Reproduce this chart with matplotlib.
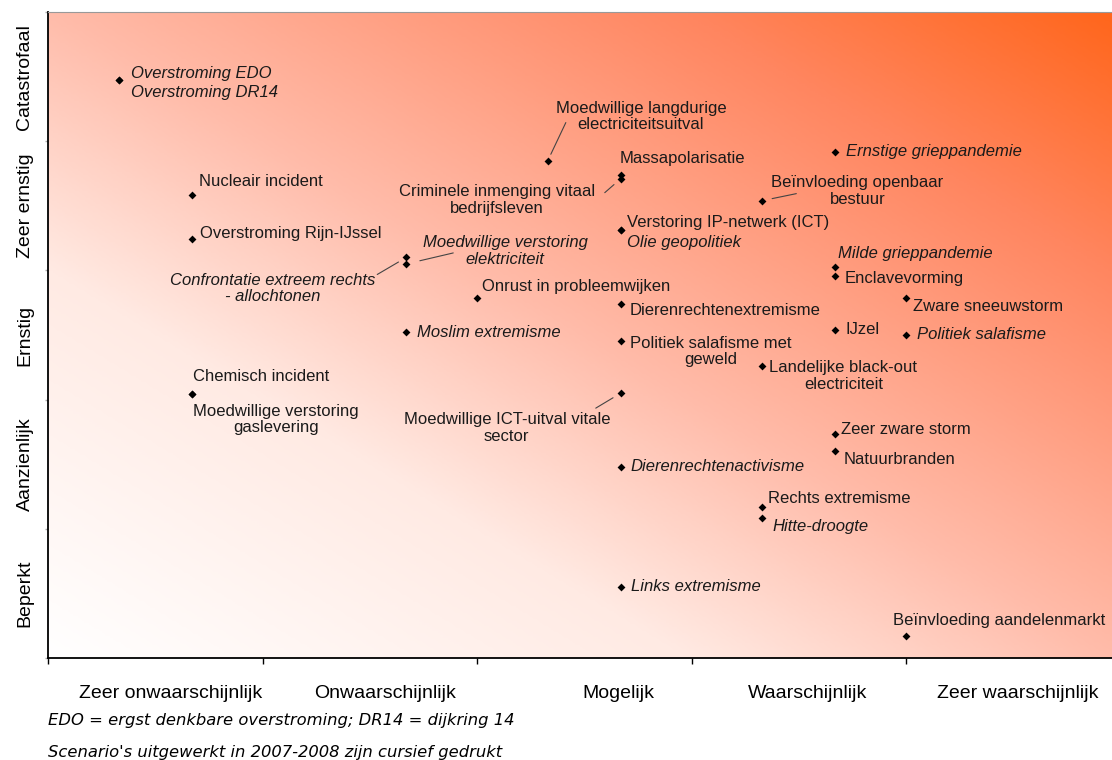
import numpy as np
import matplotlib
matplotlib.use('Agg')
import matplotlib.pyplot as plt
from matplotlib.colors import LinearSegmentedColormap
from matplotlib.transforms import blended_transform_factory

plt.rcParams['font.family'] = ['Liberation Sans', 'DejaVu Sans']

# kans (x) en impact (y) per scenario
namen = ['Overstroming EDO', 'Overstroming DR14', 'Nucleair incident', 'Overstroming Rijn-IJssel',
         'Confrontatie extreem rechts\n- allochtonen', 'Moedwillige verstoring\nelektriciteit',
         'Chemisch incident', 'Moedwillige verstoring\ngaslevering',
         'Moedwillige langdurige\nelectriciteitsuitval', 'Massapolarisatie',
         'Criminele inmenging vitaal\nbedrijfsleven', 'Verstoring IP-netwerk (ICT)', 'Olie geopolitiek',
         'Onrust in probleemwijken', 'Dierenrechtenextremisme', 'Moslim extremisme',
         'Politiek salafisme met\ngeweld', 'Moedwillige ICT-uitval vitale\nsector',
         'Dierenrechtenactivisme', 'Links extremisme', 'Ernstige grieppandemie',
         'Beïnvloeding openbaar\nbestuur', 'Milde grieppandemie', 'Enclavevorming',
         'Zware sneeuwstorm', 'IJzel', 'Politiek salafisme', 'Landelijke black-out\nelectriciteit',
         'Zeer zware storm', 'Natuurbranden', 'Rechts extremisme', 'Hitte-droogte',
         'Beïnvloeding aandelenmarkt']
kans = [0.33, 0.33, 0.67, 0.67,
        1.67, 1.67,
        0.67, 0.67,
        2.33, 2.67,
        2.67, 2.67, 2.67,
        2.0, 2.67, 1.67,
        2.67, 2.67,
        2.67, 2.67, 3.67,
        3.33, 3.67, 3.67,
        4.0, 3.67, 4.0, 3.33,
        3.67, 3.67, 3.33, 3.33,
        4.0]
impact = [4.47, 4.47, 3.58, 3.24,
          3.10, 3.05,
          2.04, 2.04,
          3.85, 3.74,
          3.71, 3.31, 3.31,
          2.79, 2.74, 2.52,
          2.45, 2.05,
          1.48, 0.55, 3.92,
          3.54, 3.03, 2.96,
          2.79, 2.54, 2.50, 2.26,
          1.73, 1.60, 1.17, 1.08,
          0.17]
cursief = [True, True, False, False,
           True, True,
           False, False,
           False, False,
           False, False, True,
           False, False, True,
           False, False,
           True, True, True,
           False, True, False,
           False, False, True, False,
           False, False, False, True,
           False]

# label offsets (pixels) and alignment
offsets = [(12, 7, 'left'), (12, -12, 'left'), (7, 14, 'left'), (8, 6, 'left'),
           (-134, -31, 'center'), (99, 13, 'center'),
           (1, 18, 'left'), (84, -25, 'center'),
           (93, 44, 'center'), (-1, 16, 'left'),
           (-124, -21, 'center'), (6, 8, 'left'), (6, -12, 'left'),
           (5, 11, 'left'), (9, -7, 'left'), (11, 0, 'left'),
           (90, -10, 'center'), (-114, -35, 'center'),
           (10, 0, 'left'), (10, 0, 'left'), (11, 0, 'left'),
           (95, 10, 'center'), (3, 13, 'left'), (9, -3, 'left'),
           (7, -9, 'left'), (10, 0, 'left'), (11, 0, 'left'), (81, -10, 'center'),
           (6, 5, 'left'), (8, -8, 'left'), (6, 8, 'left'), (10, -8, 'left'),
           (-13, 16, 'left')]

# leader lines: index, far end offset (px), gap to the point (px)
leaders = [(4, -29, -17, 9), (5, 47, 11, 14), (8, 18, 38, 7),
           (10, -16, -14, 9), (17, -25, -15, 9), (21, 34, 7, 10)]

kans_labels = ['Zeer onwaarschijnlijk', 'Onwaarschijnlijk', 'Mogelijk', 'Waarschijnlijk', 'Zeer waarschijnlijk']
kans_label_pos = [0.57, 1.57, 2.66, 3.54, 4.52]
impact_labels = ['Beperkt', 'Aanzienlijk', 'Ernstig', 'Zeer ernstig', 'Catastrofaal']

fig = plt.figure(figsize=(11.12, 7.6), dpi=100)
ax = fig.add_axes([48 / 1112, 102 / 760, 1064 / 1112, 646 / 760])
xmax = 4.96
ax.set_xlim(0, xmax)
ax.set_ylim(0, 5)

# diagonal gradient background
cmap = LinearSegmentedColormap.from_list('bg', [(0.0, '#ffffff'), (0.3, '#ffeae3'), (0.5, '#ffbcaa'),
                                                (0.8, '#ff8660'), (1.0, '#ff661c')])
u, v = np.meshgrid(np.linspace(0, 1, 400), np.linspace(0, 1, 300))
ax.imshow((u + v) / 2, cmap=cmap, extent=[0, xmax, 0, 5], origin='lower', aspect='auto', zorder=0,
          interpolation='bilinear')

ax.scatter(kans, impact, marker='D', s=16, color='black', zorder=3, linewidths=0)

for i, naam in enumerate(namen):
    dx, dy, ha = offsets[i]
    ax.annotate(naam, (kans[i], impact[i]), xytext=(dx, dy), textcoords='offset pixels',
                ha=ha, va='center', fontsize=12, linespacing=1.15, color='#1a1a1a',
                fontstyle='italic' if cursief[i] else 'normal', zorder=4)

for i, fx, fy, gap in leaders:
    ax.annotate('', (kans[i], impact[i]), xytext=(fx, fy), textcoords='offset pixels',
                arrowprops=dict(arrowstyle='-', color='#444444', lw=0.8, shrinkA=0, shrinkB=gap * 0.72))

for s in ['left', 'bottom']:
    ax.spines[s].set_color('black')
    ax.spines[s].set_linewidth(1.3)
ax.spines['top'].set_color('#999999')
ax.spines['top'].set_linewidth(0.8)
ax.spines['right'].set_visible(False)

ax.set_xticks(range(5))
ax.set_xticklabels([])
ax.set_yticks(range(6))
ax.set_yticklabels([])
ax.tick_params(axis='x', length=4, width=1, color='black')
ax.tick_params(axis='y', length=2, width=1, color='#aaaaaa')

tx = blended_transform_factory(ax.transData, fig.transFigure)
for pos, lab in zip(kans_label_pos, kans_labels):
    fig.text(pos, 1 - 693 / 760, lab, transform=tx, ha='center', va='center', fontsize=14)

ty = blended_transform_factory(fig.transFigure, ax.transData)
for k, lab in enumerate(impact_labels):
    fig.text(25 / 1112, k + 0.5, lab, transform=ty, ha='center', va='center', rotation=90, fontsize=14)

fig.text(48 / 1112, 1 - 720 / 760, 'EDO = ergst denkbare overstroming; DR14 = dijkring 14',
         family='DejaVu Sans', style='italic', fontsize=11.8, va='center')
fig.text(48 / 1112, 1 - 752 / 760, "Scenario's uitgewerkt in 2007-2008 zijn cursief gedrukt",
         family='DejaVu Sans', style='italic', fontsize=11.8, va='center')

fig.savefig('out.png', dpi=100)
